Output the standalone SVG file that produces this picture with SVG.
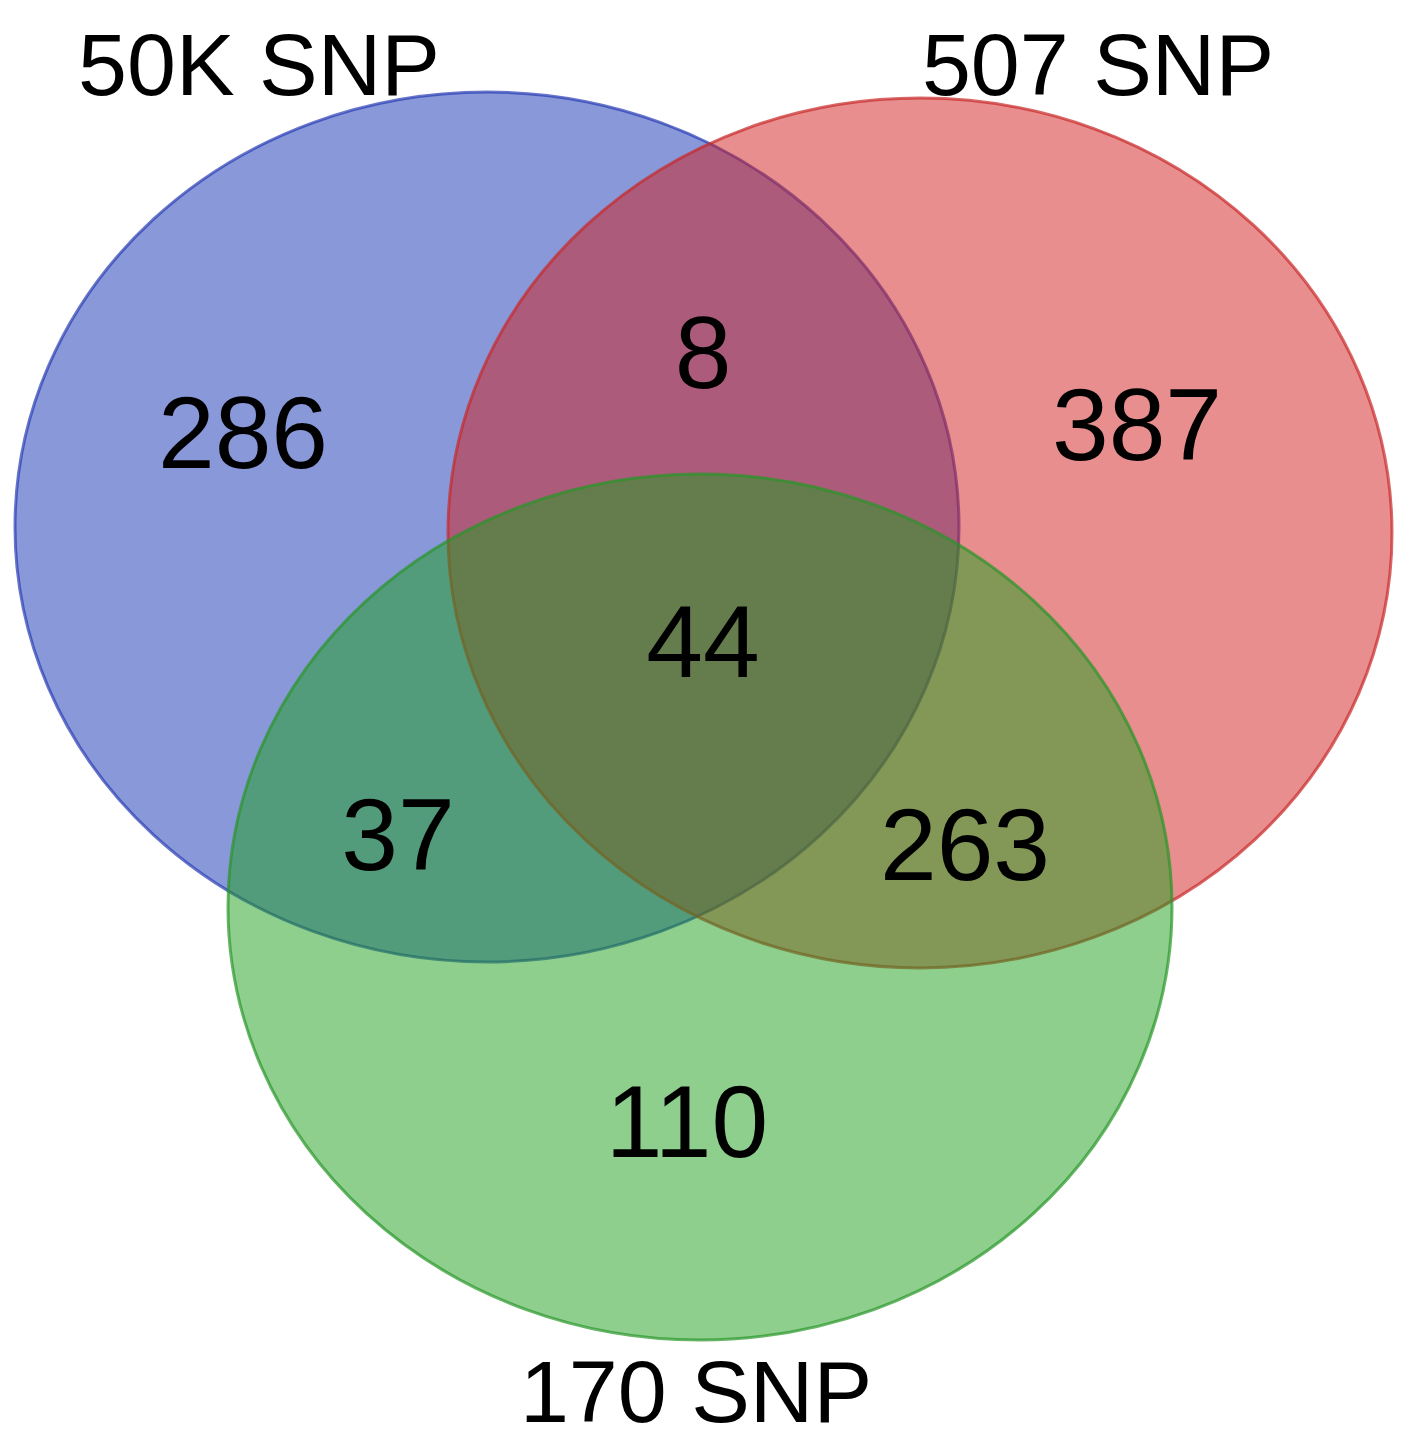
<svg xmlns="http://www.w3.org/2000/svg" width="1406" height="1456" viewBox="0 0 1406 1456">
<style>
.s{stroke-width:3;fill-opacity:0.5}
text{font-family:"Liberation Sans",Arial,sans-serif;text-anchor:middle;fill:#000}
.n{font-size:102px}
.l{font-size:88px}
</style>
<rect width="1406" height="1456" fill="#fff"/>
<g id="set-50k"><ellipse class="s" cx="487" cy="527" rx="472" ry="435" fill="rgb(20,50,180)" stroke="rgba(40,60,180,0.7)"/></g>
<g id="set-507"><ellipse class="s" cx="920" cy="533" rx="472" ry="435" fill="rgb(210,30,30)" stroke="rgba(200,40,40,0.7)"/></g>
<g id="set-170"><ellipse class="s" cx="700" cy="907" rx="472" ry="433" fill="rgb(30,160,30)" stroke="rgba(40,150,40,0.7)"/></g>
<g id="connectors"></g>
<g id="labels">
<text class="l" x="259" y="95">50K SNP</text>
<text class="l" x="1098" y="95">507 SNP</text>
<text class="l" x="696" y="1422">170 SNP</text>
<text class="n" x="243" y="468">286</text>
<text class="n" x="703" y="388">8</text>
<text class="n" x="1137" y="460">387</text>
<text class="n" x="703" y="677">44</text>
<text class="n" x="398" y="870">37</text>
<text class="n" x="965" y="880">263</text>
<text class="n" x="687" y="1157">110</text>
</g>
</svg>
